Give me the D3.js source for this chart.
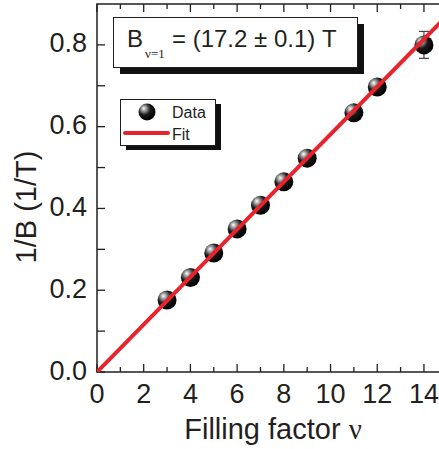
<!DOCTYPE html>
<html><head><meta charset="utf-8">
<script src="https://cdn.jsdelivr.net/npm/d3@7"></script>
<style>body{margin:0;background:#fff}svg{display:block}</style>
</head><body>
<script>
const nu = [3, 4, 5, 6, 7, 8, 9, 11, 12, 14];
const invB = [0.176, 0.231, 0.291, 0.350, 0.408, 0.465, 0.523, 0.634, 0.697, 0.800];
const invBErr = [0, 0, 0, 0, 0, 0, 0, 0, 0, 0.033];
const fitB1 = 17.2;
const xTicks = [0, 2, 4, 6, 8, 10, 12, 14];
const yTicks = [0.0, 0.2, 0.4, 0.6, 0.8];

const W = 439, H = 449;
const ink = "#231f20", red = "#e8232b";
const svg = d3.select("body").append("svg").attr("width", W).attr("height", H)
  .style("font-family", "'Liberation Sans', Arial, sans-serif");

const x = d3.scaleLinear().domain([0, 15]).range([97, 447.3]);
const y = d3.scaleLinear().domain([0, 0.9]).range([372, 4]);

const defs = svg.append("defs");
const g = defs.append("radialGradient").attr("id", "sph").attr("cx", "38%").attr("cy", "35%").attr("r", "65%").attr("fx", "30%").attr("fy", "28%");
g.append("stop").attr("offset", "0%").attr("stop-color", "#ffffff");
g.append("stop").attr("offset", "22%").attr("stop-color", "#a0a0a0");
g.append("stop").attr("offset", "55%").attr("stop-color", "#1a1a1a");
g.append("stop").attr("offset", "100%").attr("stop-color", "#000");
defs.append("clipPath").attr("id", "clip").append("rect")
  .attr("x", x(0)).attr("y", y(0.9)).attr("width", x(15) - x(0)).attr("height", y(0) - y(0.9));

// frame
svg.append("rect").attr("x", x(0)).attr("y", y(0.9)).attr("width", x(15) - x(0)).attr("height", y(0) - y(0.9))
  .attr("fill", "none").attr("stroke", ink).attr("stroke-width", 1.5);

// ticks (inward)
const xMinor = d3.range(1, 15, 2);
const yMinor = [0.1, 0.3, 0.5, 0.7];
const tk = svg.append("g").attr("stroke", ink).attr("stroke-width", 1.3);
xTicks.forEach(v => {
  tk.append("line").attr("x1", x(v)).attr("x2", x(v)).attr("y1", y(0)).attr("y2", y(0) - 8);
  tk.append("line").attr("x1", x(v)).attr("x2", x(v)).attr("y1", y(0.9)).attr("y2", y(0.9) + 8);
});
xMinor.forEach(v => {
  tk.append("line").attr("x1", x(v)).attr("x2", x(v)).attr("y1", y(0)).attr("y2", y(0) - 5);
  tk.append("line").attr("x1", x(v)).attr("x2", x(v)).attr("y1", y(0.9)).attr("y2", y(0.9) + 5);
});
yTicks.forEach(v => tk.append("line").attr("x1", x(0)).attr("x2", x(0) + 8).attr("y1", y(v)).attr("y2", y(v)));
yMinor.forEach(v => tk.append("line").attr("x1", x(0)).attr("x2", x(0) + 8).attr("y1", y(v)).attr("y2", y(v)));

// tick labels
svg.append("g").selectAll("text").data(xTicks).join("text")
  .attr("x", d => x(d)).attr("y", 403).attr("text-anchor", "middle")
  .attr("font-size", 27).attr("fill", ink).text(d => d);
svg.append("g").selectAll("text").data(yTicks).join("text")
  .attr("x", 87).attr("y", d => y(d) + 7.5).attr("text-anchor", "end")
  .attr("font-size", 27).attr("fill", ink).text(d => d.toFixed(1));

// axis titles
const xt = svg.append("text").attr("x", 273).attr("y", 439).attr("text-anchor", "middle")
  .attr("font-size", 29).attr("fill", ink);
xt.append("tspan").text("Filling factor ");
xt.append("tspan").attr("font-family", "'Liberation Serif', 'Times New Roman', serif").text("ν");
svg.append("text").attr("transform", "translate(36,207) rotate(-90)").attr("text-anchor", "middle")
  .attr("font-size", 29).attr("fill", ink).text("1/B (1/T)");

// data
const pts = nu.map((v, i) => ({ x: v, y: invB[i], e: invBErr[i] }));
const pg = svg.append("g");
pts.filter(d => d.e > 0).forEach(d => {
  pg.append("line").attr("x1", x(d.x)).attr("x2", x(d.x)).attr("y1", y(d.y - d.e)).attr("y2", y(d.y + d.e)).attr("stroke", "#444").attr("stroke-width", 1.2);
  [d.y - d.e, d.y + d.e].forEach(v => pg.append("line").attr("x1", x(d.x) - 5).attr("x2", x(d.x) + 5).attr("y1", y(v)).attr("y2", y(v)).attr("stroke", "#444").attr("stroke-width", 1.2));
});
pg.selectAll("circle").data(pts).join("circle")
  .attr("cx", d => x(d.x)).attr("cy", d => y(d.y)).attr("r", 9.5).attr("fill", "url(#sph)");

// fit line
svg.append("line").attr("clip-path", "url(#clip)")
  .attr("x1", x(0)).attr("y1", y(0)).attr("x2", x(15)).attr("y2", y(15 / fitB1))
  .attr("stroke", red).attr("stroke-width", 4);

// result box
svg.append("rect").attr("x", 120).attr("y", 24).attr("width", 244).attr("height", 50).attr("fill", "#111");
svg.append("rect").attr("x", 113.5).attr("y", 17.5).attr("width", 244).attr("height", 50).attr("fill", "#fff").attr("stroke", ink).attr("stroke-width", 1);
const t = svg.append("text").attr("y", 47).attr("font-size", 24).attr("fill", ink);
t.append("tspan").attr("x", 127).text("B");
t.append("tspan").attr("x", 145).attr("y", 58).attr("font-family", "'Liberation Serif', 'Times New Roman', serif").attr("font-size", 13).text("ν=1");
t.append("tspan").attr("x", 172).attr("y", 47).text("= (17.2 ± 0.1) T");

// legend
svg.append("rect").attr("x", 126).attr("y", 104).attr("width", 95).attr("height", 46).attr("fill", "#111");
svg.append("rect").attr("x", 120.5).attr("y", 99.5).attr("width", 95).attr("height", 46).attr("fill", "#fff").attr("stroke", ink).attr("stroke-width", 1);
svg.append("circle").attr("cx", 147).attr("cy", 112).attr("r", 8.5).attr("fill", "url(#sph)");
svg.append("line").attr("x1", 125).attr("x2", 168).attr("y1", 133).attr("y2", 133).attr("stroke", red).attr("stroke-width", 4).attr("stroke-linecap", "round");
svg.append("text").attr("x", 172).attr("y", 118).attr("font-size", 16).attr("fill", ink).text("Data");
svg.append("text").attr("x", 172).attr("y", 140).attr("font-size", 16).attr("fill", ink).text("Fit");
</script>
</body></html>
